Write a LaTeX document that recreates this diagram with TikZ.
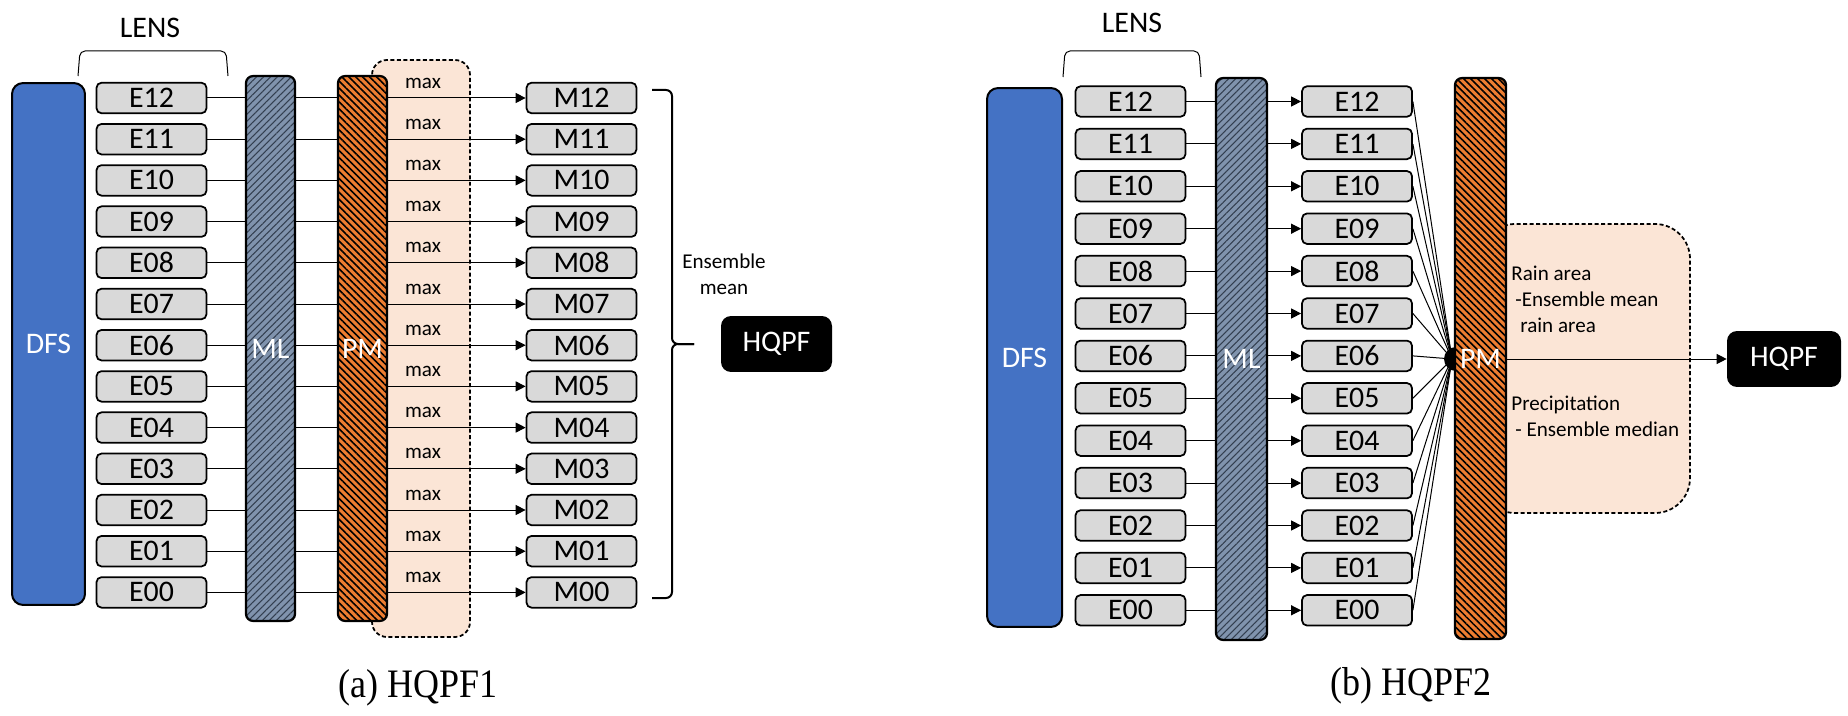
\documentclass[tikz,border=0pt]{standalone}
\usepackage{fontspec}
\setmainfont{Carlito}
\newfontfamily\capfont{Liberation Serif}
\usepackage{graphicx}
\usetikzlibrary{arrows.meta,patterns.meta}

\definecolor{dfsblue}{HTML}{4472C4}
\definecolor{boxgray}{HTML}{D9D9D9}
\definecolor{mlslate}{HTML}{8093AD}
\definecolor{mlhatch}{HTML}{333F50}
\definecolor{pmorange}{HTML}{ED7D31}
\definecolor{peach}{HTML}{FBE5D6}

\tikzset{
  ebox/.style={draw, line width=0.035cm, rounded corners=0.1cm, fill=boxgray, minimum width=2.2cm, minimum height=0.61cm, inner sep=0pt, font=\fontsize{17}{20}\selectfont},
  dfsbar/.style={draw, line width=0.04cm, rounded corners=0.22cm, fill=dfsblue, text=white, inner sep=0pt, font=\fontsize{17}{20}\selectfont},
  mlbar/.style={draw, line width=0.045cm, rounded corners=0.14cm, preaction={fill=mlslate}, pattern={Lines[angle=45,distance=2.8pt,line width=0.6pt]}, pattern color=mlhatch, text=white, inner sep=0pt, font=\fontsize{17}{20}\selectfont},
  pmbar/.style={draw, line width=0.045cm, rounded corners=0.14cm, preaction={fill=pmorange}, pattern={Lines[angle=-45,distance=2.8pt,line width=0.9pt]}, pattern color=black, text=white, inner sep=0pt, font=\fontsize{17}{20}\selectfont},
  hqpfbox/.style={fill=black, rounded corners=0.2cm, text=white, minimum height=1.12cm, inner sep=0pt, font=\fontsize{17}{20}\selectfont},
  maxlabel/.style={inner sep=0pt, font=\fontsize{12}{14}\selectfont},
  notetext/.style={inner sep=0pt, align=left, font=\fontsize{12}{14.8}\selectfont},
  link/.style={line width=0.02cm},
  arrowlink/.style={link, -{Triangle[length=0.2cm,width=0.2cm]}},
  region/.style={fill=peach, draw, line width=0.035cm, dash pattern=on 0.08cm off 0.05cm},
  lensbracket/.style={line width=0.02cm, rounded corners=0.1cm},
  caption/.style={anchor=base, font=\capfont\fontsize{23}{26}\selectfont},
}

\begin{document}
\begin{tikzpicture}[x=0.02cm, y=-0.02cm]
			%%%%% START %%%%%
			\useasboundingbox (0,0) rectangle (1848,716);
			
			%%%%% (a) HQPF1 %%%%%
			\node[font=\fontsize{17}{20}\selectfont] (lensA) at (150,28) {LENS};
			\draw[lensbracket] (78,76) -- (80,51) -- (226,51) -- (228,76);
			
			\draw[region, rounded corners=0.3cm] (372,60) rectangle (470,637);
			
			\node[dfsbar, minimum width=1.46cm, minimum height=10.44cm] (dfsA) at (48.5,344) {DFS};
			\node[mlbar, minimum width=0.98cm, minimum height=10.9cm] (mlA) at (270.5,348.5) {ML};
			\node[pmbar, minimum width=0.98cm, minimum height=10.9cm] (pmA) at (362.5,348.5) {PM};
			
			\node[ebox] (eA12) at (151.5,98) {E12};
			\node[ebox] (eA11) at (151.5,139.2) {E11};
			\node[ebox] (eA10) at (151.5,180.4) {E10};
			\node[ebox] (eA09) at (151.5,221.6) {E09};
			\node[ebox] (eA08) at (151.5,262.8) {E08};
			\node[ebox] (eA07) at (151.5,304) {E07};
			\node[ebox] (eA06) at (151.5,345.2) {E06};
			\node[ebox] (eA05) at (151.5,386.4) {E05};
			\node[ebox] (eA04) at (151.5,427.6) {E04};
			\node[ebox] (eA03) at (151.5,468.8) {E03};
			\node[ebox] (eA02) at (151.5,510) {E02};
			\node[ebox] (eA01) at (151.5,551.2) {E01};
			\node[ebox] (eA00) at (151.5,592.4) {E00};
			
			\node[ebox] (mA12) at (581.5,98) {M12};
			\node[ebox] (mA11) at (581.5,139.2) {M11};
			\node[ebox] (mA10) at (581.5,180.4) {M10};
			\node[ebox] (mA09) at (581.5,221.6) {M09};
			\node[ebox] (mA08) at (581.5,262.8) {M08};
			\node[ebox] (mA07) at (581.5,304) {M07};
			\node[ebox] (mA06) at (581.5,345.2) {M06};
			\node[ebox] (mA05) at (581.5,386.4) {M05};
			\node[ebox] (mA04) at (581.5,427.6) {M04};
			\node[ebox] (mA03) at (581.5,468.8) {M03};
			\node[ebox] (mA02) at (581.5,510) {M02};
			\node[ebox] (mA01) at (581.5,551.2) {M01};
			\node[ebox] (mA00) at (581.5,592.4) {M00};
			
			\node[maxlabel] (max12) at (423,83) {max};
			\node[maxlabel] (max11) at (423,124.2) {max};
			\node[maxlabel] (max10) at (423,165.4) {max};
			\node[maxlabel] (max09) at (423,206.6) {max};
			\node[maxlabel] (max08) at (423,247.8) {max};
			\node[maxlabel] (max07) at (423,289) {max};
			\node[maxlabel] (max06) at (423,330.2) {max};
			\node[maxlabel] (max05) at (423,371.4) {max};
			\node[maxlabel] (max04) at (423,412.6) {max};
			\node[maxlabel] (max03) at (423,453.8) {max};
			\node[maxlabel] (max02) at (423,495) {max};
			\node[maxlabel] (max01) at (423,536.2) {max};
			\node[maxlabel] (max00) at (423,577.4) {max};
			
			\draw[link] (eA12) -- (eA12 -| mlA.west) (eA12 -| mlA.east) -- (eA12 -| pmA.west);
			\draw[link] (eA11) -- (eA11 -| mlA.west) (eA11 -| mlA.east) -- (eA11 -| pmA.west);
			\draw[link] (eA10) -- (eA10 -| mlA.west) (eA10 -| mlA.east) -- (eA10 -| pmA.west);
			\draw[link] (eA09) -- (eA09 -| mlA.west) (eA09 -| mlA.east) -- (eA09 -| pmA.west);
			\draw[link] (eA08) -- (eA08 -| mlA.west) (eA08 -| mlA.east) -- (eA08 -| pmA.west);
			\draw[link] (eA07) -- (eA07 -| mlA.west) (eA07 -| mlA.east) -- (eA07 -| pmA.west);
			\draw[link] (eA06) -- (eA06 -| mlA.west) (eA06 -| mlA.east) -- (eA06 -| pmA.west);
			\draw[link] (eA05) -- (eA05 -| mlA.west) (eA05 -| mlA.east) -- (eA05 -| pmA.west);
			\draw[link] (eA04) -- (eA04 -| mlA.west) (eA04 -| mlA.east) -- (eA04 -| pmA.west);
			\draw[link] (eA03) -- (eA03 -| mlA.west) (eA03 -| mlA.east) -- (eA03 -| pmA.west);
			\draw[link] (eA02) -- (eA02 -| mlA.west) (eA02 -| mlA.east) -- (eA02 -| pmA.west);
			\draw[link] (eA01) -- (eA01 -| mlA.west) (eA01 -| mlA.east) -- (eA01 -| pmA.west);
			\draw[link] (eA00) -- (eA00 -| mlA.west) (eA00 -| mlA.east) -- (eA00 -| pmA.west);
			
			\draw[arrowlink] (mA12 -| pmA.east) -- (mA12);
			\draw[arrowlink] (mA11 -| pmA.east) -- (mA11);
			\draw[arrowlink] (mA10 -| pmA.east) -- (mA10);
			\draw[arrowlink] (mA09 -| pmA.east) -- (mA09);
			\draw[arrowlink] (mA08 -| pmA.east) -- (mA08);
			\draw[arrowlink] (mA07 -| pmA.east) -- (mA07);
			\draw[arrowlink] (mA06 -| pmA.east) -- (mA06);
			\draw[arrowlink] (mA05 -| pmA.east) -- (mA05);
			\draw[arrowlink] (mA04 -| pmA.east) -- (mA04);
			\draw[arrowlink] (mA03 -| pmA.east) -- (mA03);
			\draw[arrowlink] (mA02 -| pmA.east) -- (mA02);
			\draw[arrowlink] (mA01 -| pmA.east) -- (mA01);
			\draw[arrowlink] (mA00 -| pmA.east) -- (mA00);
			
			\draw[line width=0.04cm, rounded corners=0.12cm] (652,90) -- (672,90) -- (672,344) -- (694,344);
			\draw[line width=0.04cm, rounded corners=0.12cm] (694,344) -- (672,344) -- (672,598) -- (652,598);
			\node[notetext, align=center] (ensA) at (724,274) {Ensemble\\mean};
			\node[hqpfbox, minimum width=2.22cm] (hqpfA) at (776.5,344) {HQPF};
			
			\node[caption] (capA) at (418,697) {\scalebox{0.89}[1]{(a) HQPF1}};
			
			%%%%% (b) HQPF2 %%%%%
			\node[font=\fontsize{17}{20}\selectfont] (lensB) at (1132,23) {LENS};
			\draw[lensbracket] (1063,77) -- (1065,51) -- (1199,51) -- (1201,77);
			
			\node[dfsbar, minimum width=1.5cm, minimum height=10.78cm] (dfsB) at (1024.5,357.5) {DFS};
			\node[mlbar, minimum width=1.02cm, minimum height=11.24cm] (mlB) at (1241.5,359) {ML};
			
			\node[ebox] (eB12) at (1130.5,101.5) {E12};
			\node[ebox] (eB11) at (1130.5,143.9) {E11};
			\node[ebox] (eB10) at (1130.5,186.3) {E10};
			\node[ebox] (eB09) at (1130.5,228.7) {E09};
			\node[ebox] (eB08) at (1130.5,271.1) {E08};
			\node[ebox] (eB07) at (1130.5,313.5) {E07};
			\node[ebox] (eB06) at (1130.5,355.9) {E06};
			\node[ebox] (eB05) at (1130.5,398.3) {E05};
			\node[ebox] (eB04) at (1130.5,440.7) {E04};
			\node[ebox] (eB03) at (1130.5,483.1) {E03};
			\node[ebox] (eB02) at (1130.5,525.5) {E02};
			\node[ebox] (eB01) at (1130.5,567.9) {E01};
			\node[ebox] (eB00) at (1130.5,610.3) {E00};
			
			\node[ebox] (fB12) at (1357,101.5) {E12};
			\node[ebox] (fB11) at (1357,143.9) {E11};
			\node[ebox] (fB10) at (1357,186.3) {E10};
			\node[ebox] (fB09) at (1357,228.7) {E09};
			\node[ebox] (fB08) at (1357,271.1) {E08};
			\node[ebox] (fB07) at (1357,313.5) {E07};
			\node[ebox] (fB06) at (1357,355.9) {E06};
			\node[ebox] (fB05) at (1357,398.3) {E05};
			\node[ebox] (fB04) at (1357,440.7) {E04};
			\node[ebox] (fB03) at (1357,483.1) {E03};
			\node[ebox] (fB02) at (1357,525.5) {E02};
			\node[ebox] (fB01) at (1357,567.9) {E01};
			\node[ebox] (fB00) at (1357,610.3) {E00};
			
			\draw[link] (eB12) -- (eB12 -| mlB.west);
			\draw[link] (eB11) -- (eB11 -| mlB.west);
			\draw[link] (eB10) -- (eB10 -| mlB.west);
			\draw[link] (eB09) -- (eB09 -| mlB.west);
			\draw[link] (eB08) -- (eB08 -| mlB.west);
			\draw[link] (eB07) -- (eB07 -| mlB.west);
			\draw[link] (eB06) -- (eB06 -| mlB.west);
			\draw[link] (eB05) -- (eB05 -| mlB.west);
			\draw[link] (eB04) -- (eB04 -| mlB.west);
			\draw[link] (eB03) -- (eB03 -| mlB.west);
			\draw[link] (eB02) -- (eB02 -| mlB.west);
			\draw[link] (eB01) -- (eB01 -| mlB.west);
			\draw[link] (eB00) -- (eB00 -| mlB.west);
			
			\draw[arrowlink] (fB12 -| mlB.east) -- (fB12);
			\draw[arrowlink] (fB11 -| mlB.east) -- (fB11);
			\draw[arrowlink] (fB10 -| mlB.east) -- (fB10);
			\draw[arrowlink] (fB09 -| mlB.east) -- (fB09);
			\draw[arrowlink] (fB08 -| mlB.east) -- (fB08);
			\draw[arrowlink] (fB07 -| mlB.east) -- (fB07);
			\draw[arrowlink] (fB06 -| mlB.east) -- (fB06);
			\draw[arrowlink] (fB05 -| mlB.east) -- (fB05);
			\draw[arrowlink] (fB04 -| mlB.east) -- (fB04);
			\draw[arrowlink] (fB03 -| mlB.east) -- (fB03);
			\draw[arrowlink] (fB02 -| mlB.east) -- (fB02);
			\draw[arrowlink] (fB01 -| mlB.east) -- (fB01);
			\draw[arrowlink] (fB00 -| mlB.east) -- (fB00);
			
			\coordinate (hub) at (1452,359);
			\draw[link] (fB12.east) -- (hub);
			\draw[link] (fB11.east) -- (hub);
			\draw[link] (fB10.east) -- (hub);
			\draw[link] (fB09.east) -- (hub);
			\draw[link] (fB08.east) -- (hub);
			\draw[link] (fB07.east) -- (hub);
			\draw[link] (fB06.east) -- (hub);
			\draw[link] (fB05.east) -- (hub);
			\draw[link] (fB04.east) -- (hub);
			\draw[link] (fB03.east) -- (hub);
			\draw[link] (fB02.east) -- (hub);
			\draw[link] (fB01.east) -- (hub);
			\draw[link] (fB00.east) -- (hub);
			\fill (1456,359) circle (0.24cm);
			
			\draw[region, rounded corners=0.7cm] (1480,224) rectangle (1690,513);
			\node[pmbar, minimum width=1.02cm, minimum height=11.22cm] (pmB) at (1480.5,358.5) {PM};
			
			\node[notetext, anchor=west] (rainB) at (1511,299) {Rain area\\\hspace*{0.08cm}-Ensemble mean\\\hspace*{0.18cm}rain area};
			\node[notetext, anchor=west] (precB) at (1511,416) {Precipitation\\\hspace*{0.08cm}- Ensemble median};
			
			\node[hqpfbox, minimum width=2.28cm] (hqpfB) at (1784,359) {HQPF};
			\draw[arrowlink] (pmB.east |- hqpfB.west) -- (hqpfB.west);
			
			\node[caption] (capB) at (1411,695) {\scalebox{0.89}[1]{(b) HQPF2}};
			
			%%%%% END %%%%%
\end{tikzpicture}
\end{document}
